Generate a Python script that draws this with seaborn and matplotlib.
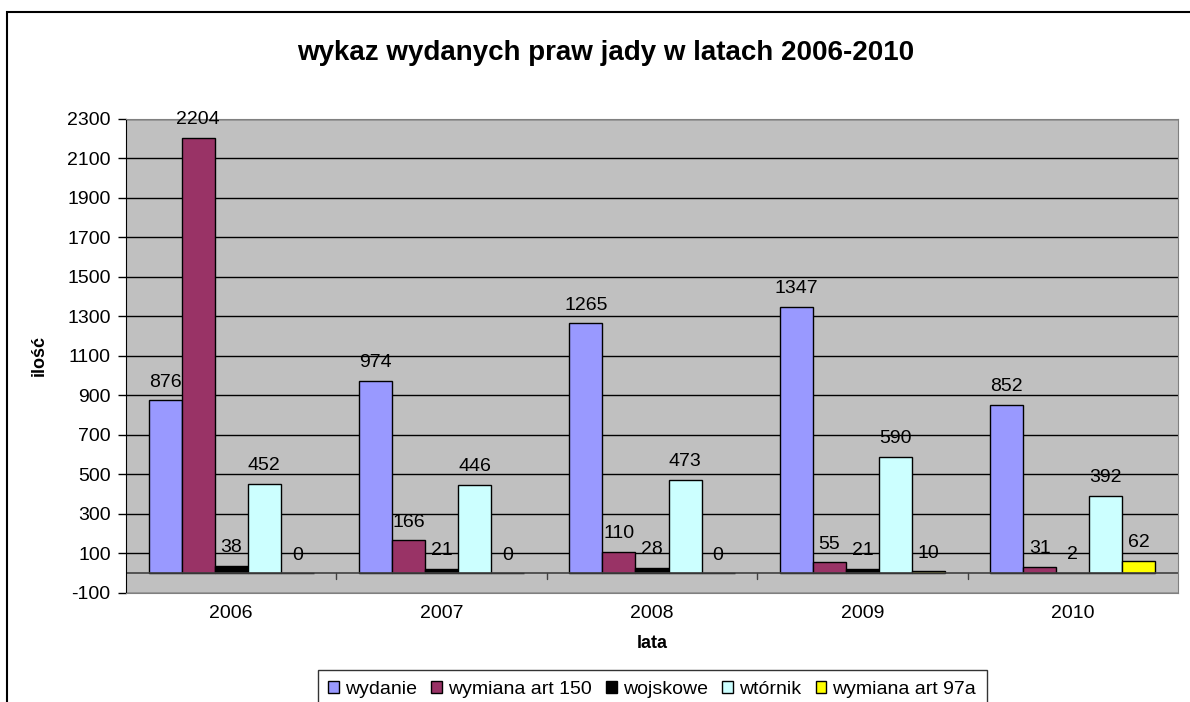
import pandas as pd
import seaborn as sns
import matplotlib.pyplot as plt
from matplotlib.patches import Rectangle

# chart data
years = ['2006', '2007', '2008', '2009', '2010']
series = ['wydanie', 'wymiana art 150', 'wojskowe', 'wtórnik', 'wymiana art 97a']
wydanie = [876, 974, 1265, 1347, 852]
wymiana_150 = [2204, 166, 110, 55, 31]
wojskowe = [38, 21, 28, 21, 2]
wtornik = [452, 446, 473, 590, 392]
wymiana_97a = [0, 0, 0, 10, 62]

colors = ['#9999FF', '#993366', '#000000', '#CCFFFF', '#FFFF00']

rows = []
for name, vals in zip(series, [wydanie, wymiana_150, wojskowe, wtornik, wymiana_97a]):
    for y, v in zip(years, vals):
        rows.append({'rok': y, 'seria': name, 'ilosc': v})
df = pd.DataFrame(rows)

sns.set_style('white')
plt.rcParams['font.family'] = ['Liberation Sans', 'DejaVu Sans']
plt.rcParams['axes.unicode_minus'] = False
plt.rcParams['text.color'] = 'black'
plt.rcParams['xtick.color'] = 'black'
plt.rcParams['ytick.color'] = 'black'
plt.rcParams['axes.labelcolor'] = 'black'

fig = plt.figure(figsize=(11.9, 7.02), dpi=100)
ax = fig.add_axes([0.1059, 0.1553, 0.8840, 0.6752])
ax.set_facecolor('#C0C0C0')

sns.barplot(data=df, x='rok', y='ilosc', hue='seria', order=years, hue_order=series,
            palette=colors, width=0.785, edgecolor='black', linewidth=1,
            saturation=1, ax=ax, legend=True)

for cont in ax.containers:
    ax.bar_label(cont, fmt='%d', padding=7, fontsize=14, color='black')

ax.set_ylim(-100, 2300)
ax.set_yticks(range(-100, 2301, 200))
ax.set_xlim(-0.5, len(years) - 0.5)
ax.yaxis.grid(True, color='black', linewidth=1)
ax.set_axisbelow(True)
ax.axhline(0, color='#404040', linewidth=1.2, zorder=1)

# category separators at the zero line
for i in range(len(years) - 1):
    ax.plot([i + 0.5, i + 0.5], [0, -30], color='#404040', linewidth=1, zorder=1)

for s in ['top', 'right', 'bottom']:
    ax.spines[s].set_color('#808080')
ax.spines['left'].set_color('black')
ax.tick_params(axis='y', direction='out', length=6, width=1, color='black',
               labelsize=14, left=True, pad=5)
ax.tick_params(axis='x', length=0, labelsize=14, pad=9)

ax.set_xlabel('lata', fontsize=13, fontweight='bold', labelpad=9)
ax.set_ylabel('ilość', fontsize=13, fontweight='bold', labelpad=14)

fig.text(0.509, 0.925, 'wykaz wydanych praw jady w latach 2006-2010',
         ha='center', va='center', fontsize=20, fontweight='bold')

handles, labels = ax.get_legend_handles_labels()
ax.legend_.remove()
leg = fig.legend(handles, labels, loc='upper center', bbox_to_anchor=(0.548, 0.0456),
                 ncol=5, fontsize=14, frameon=True, fancybox=False, edgecolor='black',
                 handlelength=0.55, handleheight=0.55, handletextpad=0.3,
                 columnspacing=0.75, borderpad=0.55, borderaxespad=0)
leg.get_frame().set_linewidth(1)

# outer chart frame (runs past the image edge at right/bottom)
fig.patches.append(Rectangle((0.0059, -0.1), 1.2, 1.083, transform=fig.transFigure,
                             fill=False, edgecolor='black', linewidth=1.5))

plt.savefig('out.png', dpi=100)
plt.close()
